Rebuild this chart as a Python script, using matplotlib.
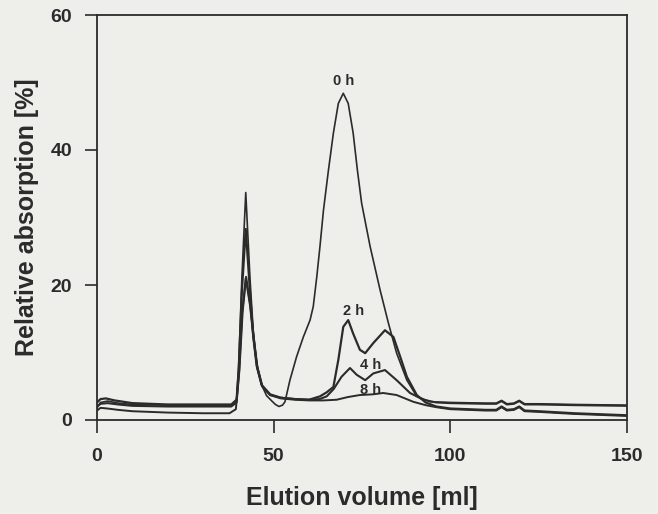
import matplotlib
matplotlib.use("Agg")
import matplotlib.pyplot as plt

# ---- data ----
vol_0h = [0, 1, 3, 6, 10, 20, 30, 38, 39.5, 40.1, 41.0, 42.1, 43.3, 44.2, 45.2, 46.6, 48, 49.5,
          50.5, 51.5, 52.5, 53.2, 54.6, 56.5, 58.4, 60.3, 61.2, 62.2, 63.1, 64.1, 65.5, 66.9, 68.3,
          69.7, 71.1, 72.5, 73.7, 74.9, 77.3, 80.1, 82.5, 84.8, 87.7, 90.5, 94.3, 100, 110, 113,
          114.5, 116, 118, 119.5, 121, 125, 135, 150]
abs_0h = [1.8, 2.6, 2.8, 2.5, 2.3, 2.2, 2.2, 2.2, 3.0, 8.0, 21, 33.7, 21, 13.3, 8.4, 5.2, 3.6, 2.8,
          2.3, 2.0, 2.2, 2.7, 5.9, 9.4, 12.3, 14.8, 16.8, 21.2, 25.7, 31.1, 37, 42.5, 46.9,
          48.4, 46.9, 42.5, 37, 32.1, 25.7, 19.3, 14.3, 9.9, 5.9, 3.5, 2.7, 2.6, 2.5, 2.5,
          2.9, 2.4, 2.5, 2.9, 2.4, 2.4, 2.3, 2.2]

vol_2h = [0, 1, 2.5, 5, 10, 20, 30, 38, 39.5, 40.1, 41.0, 42.1, 43.3, 44.2, 45.2, 46.6, 49, 52, 56,
          60, 63.1, 65, 66.9, 68.3, 69.7, 71.1, 72.5, 74.4, 75.9, 78.2, 81.5, 83.9, 85.8, 87.7, 90.5,
          93, 96, 100, 110, 113, 114.5, 116, 118, 119.5, 121, 125, 135, 150]
abs_2h = [2.6, 3.1, 3.2, 2.9, 2.5, 2.3, 2.3, 2.3, 3.0, 7.5, 19, 28.3, 19, 12.5, 8.0, 5.2, 3.8, 3.3, 3.1,
          3.0, 3.5, 4.1, 4.9, 8.9, 13.8, 14.8, 12.8, 10.4, 9.9, 11.4, 13.3, 12.3, 9.4, 6.4, 3.7,
          2.6, 2.0, 1.7, 1.5, 1.5, 2.0, 1.5, 1.6, 2.0, 1.4, 1.3, 1.0, 0.7]

vol_4h = [0, 1, 3, 6, 10, 20, 30, 38, 39.5, 40.3, 41.2, 42.2, 43.4, 44.4, 45.4, 46.8, 49, 52, 56,
          60, 63, 65, 67, 69.2, 71.6, 73.5, 75.9, 78.2, 81.5, 84.8, 88.6, 92.4, 96, 100, 110, 113,
          114.5, 116, 118, 119.5, 121, 125, 135, 150]
abs_4h = [2.0, 2.4, 2.5, 2.3, 2.1, 2.0, 2.0, 2.0, 2.6, 7.5, 16, 21.2, 17, 12, 7.8, 5.0, 3.7, 3.3, 3.1,
          3.0, 3.1, 3.5, 4.6, 6.4, 7.7, 6.7, 5.9, 6.9, 7.4, 5.9, 4.0, 3.0, 2.6, 2.5, 2.4, 2.4,
          2.8, 2.3, 2.4, 2.8, 2.3, 2.3, 2.2, 2.1]

vol_8h = [0, 1, 3, 6, 10, 20, 30, 37.5, 39.3, 40.2, 41.1, 42.1, 43.3, 44.3, 45.3, 46.7, 49, 52, 56,
          60, 64, 67.8, 71, 74.4, 78, 81, 84.8, 89.5, 93, 96, 100, 110, 113, 114.5, 116, 118, 119.5,
          121, 125, 135, 150]
abs_8h = [1.4, 1.8, 1.7, 1.5, 1.3, 1.1, 1.0, 1.0, 1.6, 7.0, 16, 21.0, 17, 12, 7.8, 5.0, 3.7, 3.2, 3.0,
          2.9, 2.9, 3.0, 3.4, 3.7, 3.8, 4.0, 3.7, 2.7, 2.2, 1.9, 1.6, 1.4, 1.4, 1.9, 1.4, 1.5, 1.9,
          1.3, 1.2, 0.9, 0.6]

series = [("0 h", vol_0h, abs_0h, 1.2), ("2 h", vol_2h, abs_2h, 1.6),
          ("4 h", vol_4h, abs_4h, 1.5), ("8 h", vol_8h, abs_8h, 1.4)]
label_pos = {"0 h": (69.7, 50.2), "2 h": (72.5, 16.1), "4 h": (77.3, 8.2), "8 h": (77.3, 4.5)}

x_ticks = [0, 50, 100, 150]
y_ticks = [0, 20, 40, 60]

bg = "#eeeeeb"
ink = "#2b2b2b"
font = ["Liberation Sans", "DejaVu Sans"]

fig = plt.figure(figsize=(6.58, 5.14), dpi=100, facecolor=bg)
ax = fig.add_axes([97 / 658, 1 - 420 / 514, (627 - 97) / 658, (420 - 15) / 514])
ax.set_facecolor(bg)

for name, xs, ys, lw in series:
    ax.plot(xs, ys, color=ink, lw=lw, solid_joinstyle="round")
    lx, ly = label_pos[name]
    ax.text(lx, ly, name, ha="center", va="center", fontsize=10.5, fontweight="bold",
            color=ink, family=font)

ax.set_xlim(0, 150)
ax.set_ylim(0, 60)
ax.set_xticks(x_ticks)
ax.set_yticks(y_ticks)
ax.set_xticklabels([str(v) for v in x_ticks], fontsize=14, fontweight="bold", color=ink, family=font)
ax.set_yticklabels([str(v) for v in y_ticks], fontsize=14, fontweight="bold", color=ink, family=font)
ax.tick_params(axis="x", direction="out", length=9, width=1.2, color=ink, pad=11)
ax.tick_params(axis="y", direction="out", length=9, width=1.2, color=ink, pad=9)
for s in ax.spines.values():
    s.set_color(ink)
    s.set_linewidth(1.3)

ax.set_xlabel("Elution volume [ml]", fontsize=18, fontweight="bold", color=ink, labelpad=15,
              family=font)
ax.set_ylabel("Relative absorption [%]", fontsize=18, fontweight="bold", color=ink, labelpad=8,
              family=font)

fig.savefig("out.png", dpi=100, facecolor=bg)
